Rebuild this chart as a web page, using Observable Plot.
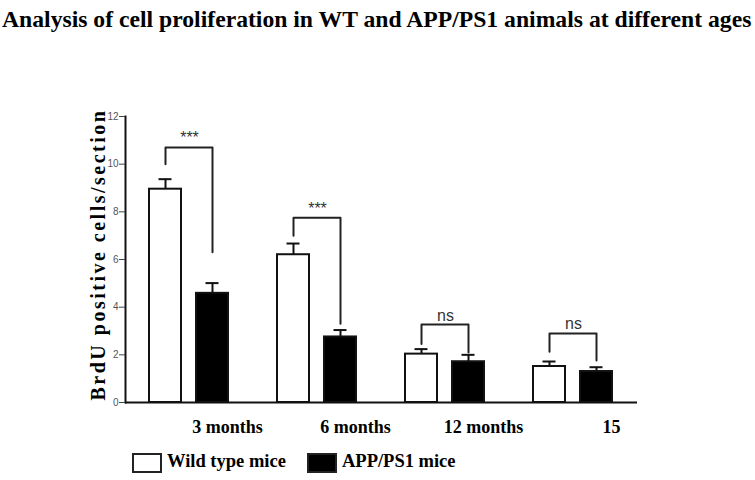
<!DOCTYPE html>
<html><head><meta charset="utf-8">
<script src="https://cdn.jsdelivr.net/npm/d3@7"></script>
<script src="https://cdn.jsdelivr.net/npm/@observablehq/plot@0.6"></script>
<style>
body{margin:0;background:#fff;width:755px;height:480px;overflow:hidden;position:relative}
#title{position:absolute;left:2px;top:9px;font:bold 21px/21px "Liberation Serif",serif;white-space:nowrap;color:#000}
#chart{position:absolute;left:0;top:40px}
#legend{position:absolute;left:0;top:440px;width:755px;height:40px}
.sw{position:absolute;top:13px;width:26px;height:16px;border:2px solid #222}
.lt{position:absolute;top:12px;font:bold 18.5px/18px "Liberation Serif",serif;color:#000;white-space:nowrap}
</style></head><body>
<div id="title">Analysis of cell proliferation in WT and APP/PS1 animals at different ages</div>
<div id="chart"></div>
<div id="legend"></div>
<script>
const ages = ["3 months", "6 months", "12 months", "15"];
const series = ["Wild type mice", "APP/PS1 mice"];
const seriesColors = ["white", "black"];
const wtMean = [8.95, 6.2, 2.03, 1.51];
const wtSem = [0.42, 0.47, 0.21, 0.21];
const appMean = [4.58, 2.75, 1.71, 1.3];
const appSem = [0.43, 0.29, 0.29, 0.18];
const sigLabels = ["***", "***", "ns", "ns"];
const bracketTop = [10.7, 7.75, 3.27, 2.9];
const bracketLeftEnd = [10.0, 7.0, 2.45, 2.13];
const bracketRightEnd = [6.3, 3.3, 2.1, 1.76];
const yTicks = [0, 2, 4, 6, 8, 10, 12];
const yLabel = "BrdU positive cells/section";

const rows = ages.flatMap((a, i) => [
  {age: a, g: series[0], value: wtMean[i], sem: wtSem[i]},
  {age: a, g: series[1], value: appMean[i], sem: appSem[i]}
]);
const brackets = ages.flatMap((a, i) => [
  {age: a, g: series[0], y: bracketLeftEnd[i]},
  {age: a, g: series[0], y: bracketTop[i]},
  {age: a, g: series[1], y: bracketTop[i]},
  {age: a, g: series[1], y: bracketRightEnd[i]}
]);
const sig = ages.map((a, i) => ({age: a, top: bracketTop[i], label: sigLabels[i]}));

const chart = Plot.plot({
  width: 755, height: 400,
  marginTop: 76, marginBottom: 38, marginLeft: 123, marginRight: 117,
  fx: {domain: ages, padding: 0, axis: null},
  x: {domain: series, paddingInner: 0.3125, paddingOuter: 0.497, axis: null},
  y: {domain: [0, 12], axis: null},
  color: {domain: series, range: seriesColors},
  style: {fontFamily: "'Liberation Sans', Arial, sans-serif", background: "white", overflow: "visible"},
  marks: [
    Plot.barY(rows, {fx: "age", x: "g", y: "value", fill: "g", stroke: "#111", strokeWidth: 2}),
    Plot.ruleX(rows, {fx: "age", x: "g", y1: "value", y2: d => d.value + d.sem, stroke: "#111", strokeWidth: 2}),
    Plot.tickY(rows, {fx: "age", x: "g", y: d => d.value + d.sem, insetLeft: 9.5, insetRight: 9.5, stroke: "#111", strokeWidth: 2}),
    Plot.line(brackets, {fx: "age", x: "g", y: "y", z: "age", stroke: "#222", strokeWidth: 2}),
    Plot.text(sig, {fx: "age", y: "top", text: "label", lineAnchor: "bottom", dy: -4, fontSize: 16, fill: "#333"}),
    Plot.ruleY([0], {stroke: "#111", strokeWidth: 2}),
    Plot.frame({anchor: "left", fx: ages[0], stroke: "#111", strokeWidth: 2}),
    Plot.axisY({ticks: yTicks, tickSize: 6, tickPadding: 1, fontSize: 10, fill: "#555", stroke: "#444", label: null}),
    Plot.text([yLabel], {fx: () => ages[0], text: d => d, frameAnchor: "left", textAnchor: "middle", lineAnchor: "middle", rotate: -90, dx: -27, dy: -5, fontSize: 20, fontWeight: "bold", fontFamily: "'Liberation Serif', serif", fill: "#000"}),
    Plot.axisFx({anchor: "bottom", tickSize: 0, tickPadding: 18, dx: 38, fontSize: 18, fontWeight: "bold", fontFamily: "'Liberation Serif', serif", fill: "#000", label: null})
  ]
});
document.getElementById("chart").appendChild(chart);
d3.select(chart).selectAll("text").filter(function() { return this.textContent === yLabel; })
  .style("letter-spacing", "2.5px");

const legend = document.getElementById("legend");
const swLeft = [132, 307];
series.forEach((s, i) => {
  const sw = document.createElement("div");
  sw.className = "sw";
  sw.style.left = swLeft[i] + "px";
  sw.style.background = seriesColors[i];
  legend.appendChild(sw);
  const t = document.createElement("div");
  t.className = "lt";
  t.style.left = (swLeft[i] + 35) + "px";
  t.textContent = s;
  legend.appendChild(t);
});

// fit the title to the reference width
const title = document.getElementById("title");
const w = title.getBoundingClientRect().width;
title.style.fontSize = (21 * 750 / w) + "px";
</script>
</body></html>
